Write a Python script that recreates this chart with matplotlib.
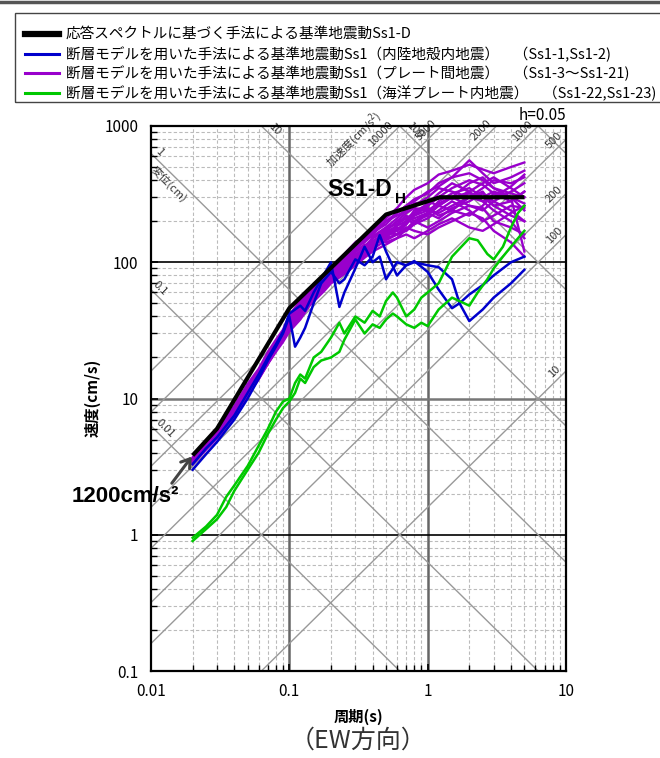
import numpy as np
import matplotlib
matplotlib.use("Agg")
import matplotlib.pyplot as plt
from matplotlib.lines import Line2D
from matplotlib.patches import Rectangle

plt.rcParams['font.family'] = ['Noto Sans CJK JP', 'DejaVu Sans']

# 基準地震動 Ss1-D（応答スペクトル）折れ点
periods_d = [0.02, 0.03, 0.1, 0.5, 1.23, 5.0]
vel_d = [3.82, 6.0, 46.0, 224.0, 300.0, 300.0]

# プレート間地震 Ss1-3～Ss1-21（紫）
periods_p = [0.02, 0.025, 0.03, 0.04, 0.05, 0.06, 0.07, 0.08, 0.09, 0.1,
             0.12, 0.14, 0.16, 0.18, 0.2, 0.25, 0.3, 0.35, 0.4, 0.5,
             0.6, 0.7, 0.8, 1.0, 1.2, 1.5, 2.0, 2.5, 3.0, 4.0,
             5.0]
vel_p = [
    [3.7, 4.8, 5.8, 8.8, 12.8, 16.5, 22, 27, 32, 41,
     52, 63, 70, 80, 92, 115, 140, 155, 175, 210,
     250, 300, 340, 380, 440, 470, 520, 480, 450, 500,
     540],
    [3.6, 4.6, 5.6, 8.3, 12, 16, 20.5, 25, 30, 38,
     48, 58, 66, 72, 85, 100, 125, 150, 165, 190,
     230, 260, 280, 330, 360, 420, 560, 450, 380, 420,
     470],
    [3.5, 4.5, 5.4, 8, 11.5, 15, 19, 24, 29, 36,
     44, 56, 60, 72, 80, 98, 112, 130, 150, 175,
     170, 200, 240, 260, 300, 290, 330, 380, 420, 350,
     300],
    [3.4, 4.4, 5.3, 7.8, 11, 14.5, 19, 23, 27, 33,
     42, 52, 62, 68, 75, 90, 105, 120, 135, 150,
     190, 220, 200, 230, 260, 300, 260, 240, 280, 330,
     380],
    [3.5, 4.5, 5.5, 8.1, 11.8, 15.5, 20, 24.5, 28, 35,
     46, 55, 60, 66, 80, 92, 118, 135, 128, 160,
     175, 190, 230, 250, 220, 240, 300, 330, 260, 220,
     200],
    [3.3, 4.3, 5.2, 7.5, 10.8, 14, 18, 22.5, 27, 32,
     40, 50, 58, 64, 72, 88, 100, 112, 140, 150,
     160, 170, 190, 210, 240, 280, 240, 200, 220, 260,
     250],
    [3.6, 4.7, 5.6, 8.4, 12.2, 16, 21, 26, 31, 39,
     50, 60, 68, 78, 88, 105, 130, 140, 160, 200,
     220, 240, 260, 300, 350, 330, 300, 350, 400, 380,
     420],
    [3.4, 4.4, 5.3, 7.7, 11, 14.5, 19, 23.5, 28, 34,
     43, 54, 60, 70, 76, 94, 108, 125, 145, 140,
     150, 175, 200, 180, 200, 230, 260, 250, 200, 180,
     160],
    [3.5, 4.5, 5.4, 7.9, 11.4, 15, 19.5, 24, 28.5, 35,
     45, 53, 63, 70, 82, 96, 115, 118, 140, 170,
     200, 210, 190, 230, 280, 320, 350, 300, 260, 280,
     330],
    [3.3, 4.2, 5.1, 7.4, 10.5, 13.8, 18, 22, 26, 31,
     38, 48, 55, 62, 70, 82, 95, 108, 120, 135,
     150, 160, 150, 170, 190, 210, 180, 170, 190, 230,
     260],
    [3.6, 4.6, 5.5, 8.2, 11.9, 15.7, 20.5, 25, 30, 37,
     47, 57, 65, 75, 85, 102, 120, 145, 155, 180,
     210, 240, 270, 280, 260, 300, 380, 420, 350, 300,
     270],
    [3.4, 4.3, 5.2, 7.6, 10.9, 14.2, 18.5, 23, 27.5, 33,
     41, 51, 59, 66, 74, 85, 100, 115, 130, 160,
     180, 170, 200, 220, 260, 240, 220, 260, 320, 300,
     240],
    [3.5, 4.5, 5.4, 8, 11.6, 15.2, 19.8, 24.2, 29, 36,
     46, 56, 63, 71, 80, 94, 110, 128, 138, 165,
     160, 190, 220, 260, 300, 350, 400, 370, 320, 280,
     330],
    [3.4, 4.4, 5.3, 7.8, 11.2, 14.8, 19, 23.5, 28, 34,
     44, 54, 61, 67, 77, 90, 104, 120, 150, 170,
     200, 230, 250, 240, 230, 260, 300, 280, 240, 200,
     150],
    [3.5, 4.6, 5.5, 8.2, 11.8, 15.6, 20.4, 25, 29.5, 37,
     48, 57, 64, 74, 84, 100, 122, 130, 150, 180,
     190, 210, 230, 270, 320, 380, 330, 280, 300, 360,
     440],
    [3.3, 4.3, 5.2, 7.5, 10.7, 14, 18.2, 22.5, 27, 32,
     40, 49, 57, 64, 72, 86, 98, 110, 125, 145,
     160, 180, 170, 160, 180, 200, 230, 210, 170, 140,
     110],
    [3.6, 4.7, 5.7, 8.5, 12.4, 16.2, 21, 26, 31, 39,
     51, 61, 69, 79, 90, 108, 128, 145, 170, 200,
     230, 260, 290, 320, 380, 420, 450, 400, 350, 320,
     300],
    [3.4, 4.4, 5.3, 7.7, 11.1, 14.6, 19, 23.3, 27.8, 34,
     43, 53, 59, 68, 78, 92, 108, 122, 132, 155,
     170, 200, 210, 230, 210, 250, 280, 320, 280, 240,
     200],
    [3.5, 4.5, 5.4, 8, 11.5, 15, 19.6, 24, 28.6, 35,
     45, 55, 62, 70, 79, 93, 112, 126, 142, 165,
     185, 200, 220, 240, 270, 300, 320, 300, 330, 300,
     120],
]

# 内陸地殻内地震 Ss1-1, Ss1-2（青）
periods_b = [0.02, 0.025, 0.03, 0.04, 0.05, 0.06, 0.07, 0.08, 0.09, 0.1,
             0.11, 0.12, 0.13, 0.15, 0.17, 0.2, 0.23, 0.25, 0.3, 0.35,
             0.4, 0.45, 0.5, 0.6, 0.7, 0.8, 1.0, 1.2, 1.5, 1.7,
             2.0, 2.5, 3.0, 4.0, 5.0]
vel_b1 = [3.0, 3.9, 4.8, 7.0, 10, 14, 19, 24, 30, 40,
          24, 28, 33, 50, 70, 85, 70, 75, 105, 95,
          110, 158, 120, 80, 95, 100, 95, 92, 75, 50,
          37, 45, 55, 70, 88]
vel_b2 = [3.3, 4.3, 5.2, 7.5, 11, 15, 20, 25, 31, 42,
          45, 48, 44, 60, 75, 100, 47, 60, 90, 130,
          100, 110, 75, 100, 95, 102, 85, 63, 46, 50,
          58, 68, 80, 100, 110]

# 海洋プレート内地震 Ss1-22, Ss1-23（緑）
periods_g = [0.02, 0.025, 0.03, 0.035, 0.04, 0.05, 0.06, 0.07, 0.08, 0.09,
             0.1, 0.11, 0.12, 0.13, 0.15, 0.17, 0.2, 0.23, 0.25, 0.3,
             0.35, 0.4, 0.45, 0.5, 0.56, 0.6, 0.7, 0.8, 0.9, 1.0,
             1.2, 1.5, 2.0, 2.3, 2.7, 3.0, 3.5, 4.0, 4.5, 5.0]
vel_g1 = [0.95, 1.15, 1.4, 1.9, 2.3, 3.2, 4.5, 6, 8, 9.5,
          10, 13, 15, 14, 20, 22, 28, 36, 30, 40,
          36, 44, 40, 52, 60, 55, 40, 45, 55, 60,
          70, 110, 150, 145, 115, 105, 130, 180, 230, 260]
vel_g2 = [0.9, 1.1, 1.3, 1.6, 2.1, 3.0, 4.0, 5.5, 7, 8.5,
          9.5, 11, 14, 13, 17, 19, 20, 22, 27, 38,
          30, 35, 33, 38, 42, 40, 35, 33, 36, 34,
          45, 55, 48, 60, 75, 90, 110, 130, 150, 170]

# 三軸目盛（変位 cm / 加速度 cm/s2）
disp_lines = [0.01, 0.1, 1, 10, 100, 1000]
acc_lines = [10, 100, 200, 500, 1000, 2000, 5000, 10000]

x_ticks = [0.01, 0.1, 1, 10]
x_labels = ['0.01', '0.1', '1', '10']
y_ticks = [0.1, 1, 10, 100, 1000]
y_labels = ['0.1', '1', '10', '100', '1000']

legend_labels = [
    '応答スペクトルに基づく手法による基準地震動Ss1-D',
    '断層モデルを用いた手法による基準地震動Ss1（内陸地殻内地震）　（Ss1-1,Ss1-2)',
    '断層モデルを用いた手法による基準地震動Ss1（プレート間地震）　（Ss1-3～Ss1-21)',
    '断層モデルを用いた手法による基準地震動Ss1（海洋プレート内地震）　（Ss1-22,Ss1-23)',
]

C_BLACK = 'black'
C_BLUE = '#0000cc'
C_PURPLE = '#9900cc'
C_GREEN = '#00c800'

W, H = 660, 758


def fx(x):
    return x / W


def fy(y):
    return 1 - y / H


fig = plt.figure(figsize=(6.6, 7.58), dpi=100)
ax = fig.add_axes([fx(151), fy(671), (566 - 151) / W, (671 - 126) / H])
ax.set_xscale('log')
ax.set_yscale('log')
ax.set_xlim(0.01, 10)
ax.set_ylim(0.1, 1000)

# 補助格子
for d in range(-2, 1):
    for k in range(2, 10):
        ax.axvline(k * 10.0 ** d, color='#bbbbbb', lw=0.8, ls=(0, (3, 2)), zorder=0)
for d in range(-1, 3):
    for k in range(2, 10):
        ax.axhline(k * 10.0 ** d, color='#bbbbbb', lw=0.8, ls=(0, (3, 2)), zorder=0)
for xv in [0.1, 1]:
    ax.axvline(xv, color='#666666', lw=1.8, zorder=1)
ax.axhline(10, color='#777777', lw=1.8, zorder=1)
for yv in [1, 100]:
    ax.axhline(yv, color='black', lw=1.2, zorder=1)

# 斜め線
tt = np.logspace(-3, 2, 20)
for sd in disp_lines:
    ax.plot(tt, 2 * np.pi * sd / tt, color='#999999', lw=1.0, zorder=1)
for a in acc_lines:
    ax.plot(tt, a * tt / (2 * np.pi), color='#999999', lw=1.0, zorder=1)

lab_kw = dict(fontsize=8, color='#333333', ha='center', va='center',
              textcoords='offset points', annotation_clip=False, zorder=2)


def disp_label(text, sd, t, off=5.5):
    ax.annotate(text, xy=(t, 2 * np.pi * sd / t), xytext=(off * 0.7, off * 0.7),
                rotation=-45, **lab_kw)


def acc_label(text, a, t, off=5.5):
    ax.annotate(text, xy=(t, a * t / (2 * np.pi)), xytext=(-off * 0.7, off * 0.7),
                rotation=45, **lab_kw)


disp_label('1', 1, 0.0106)
disp_label('変位(cm)', 1, 0.0150, off=-7)
disp_label('10', 10, 0.072)
disp_label('100', 100, 0.74)
disp_label('0.1', 0.1, 0.0106)
disp_label('0.01', 0.01, 0.0115)

acc_label('10000', 10000, 0.50)
acc_label('加速度(cm/s$^2$)', 10000, 0.38, off=16)
acc_label('5000', 5000, 1.07)
acc_label('2000', 2000, 2.67)
acc_label('1000', 1000, 5.3)
acc_label('500', 500, 9.0)
acc_label('200', 200, 9.0)
acc_label('100', 100, 9.0)
acc_label('10', 10, 9.0)

# スペクトル
for v in vel_p:
    ax.plot(periods_p, v, color=C_PURPLE, lw=1.7, zorder=3)
ax.plot(periods_b, vel_b1, color=C_BLUE, lw=1.8, zorder=4)
ax.plot(periods_b, vel_b2, color=C_BLUE, lw=1.8, zorder=4)
ax.plot(periods_g, vel_g1, color=C_GREEN, lw=1.8, zorder=4)
ax.plot(periods_g, vel_g2, color=C_GREEN, lw=1.8, zorder=4)
ax.plot(periods_d, vel_d, color=C_BLACK, lw=3.0, zorder=5, solid_capstyle='butt')

# 注記
ax.text(0.325, 340, 'Ss1-D', fontsize=16.5, fontweight='bold', family='Liberation Sans',
        ha='center', va='center', zorder=6)
ax.text(0.64, 292, 'H', fontsize=11, fontweight='bold', family='Liberation Sans',
        ha='center', va='center', zorder=6)
ax.annotate('', xy=(periods_d[0], vel_d[0]), xytext=(-15, -20), textcoords='offset points',
            arrowprops=dict(arrowstyle='->,head_length=0.6,head_width=0.4', color='#444444',
                            lw=2.2, shrinkA=0, shrinkB=1), zorder=6)
fig.text(fx(125), fy(496), '1200cm/s²', fontsize=16, fontweight='bold',
         family='Liberation Sans', ha='center', va='center')

# 軸
ax.set_xticks(x_ticks)
ax.set_xticklabels(x_labels)
ax.set_yticks(y_ticks)
ax.set_yticklabels(y_labels)
ax.tick_params(which='both', direction='in', labelsize=11, pad=9)
ax.tick_params(which='major', length=5, width=1.2)
ax.tick_params(which='minor', length=4, width=1.0, labelleft=False, labelbottom=False)
for s in ax.spines.values():
    s.set_linewidth(1.6)

fig.text(fx(93), fy(398), '速度(cm/s)', rotation=90, fontsize=11, fontweight='bold',
         ha='center', va='center')
fig.text(fx(358), fy(717), '周期(s)', fontsize=11, fontweight='bold', ha='center', va='center')
fig.text(fx(358), fy(741), '（EW方向）', fontsize=18, color='#333333', ha='center', va='center')
fig.text(fx(566), fy(116), 'h=0.05', fontsize=11, ha='right', va='center')

# 凡例
fig.add_artist(Line2D([0, 1], [fy(1.5), fy(1.5)], color='#555555', lw=2.5, transform=fig.transFigure))
fig.add_artist(Rectangle((fx(15), fy(102)), 1.0, (102 - 13) / H, transform=fig.transFigure,
                         fill=False, edgecolor='#444444', lw=1.0))
leg_colors = [C_BLACK, C_BLUE, C_PURPLE, C_GREEN]
leg_widths = [4.5, 2.2, 2.2, 2.2]
row_y = [34, 54, 73, 93]
for lbl, c, lw, y in zip(legend_labels, leg_colors, leg_widths, row_y):
    fig.add_artist(Line2D([fx(25), fx(59)], [fy(y), fy(y)], color=c, lw=lw, transform=fig.transFigure))
    fig.text(fx(66), fy(y), lbl, fontsize=10.5, ha='left', va='center')

fig.savefig('out.png', dpi=100)
